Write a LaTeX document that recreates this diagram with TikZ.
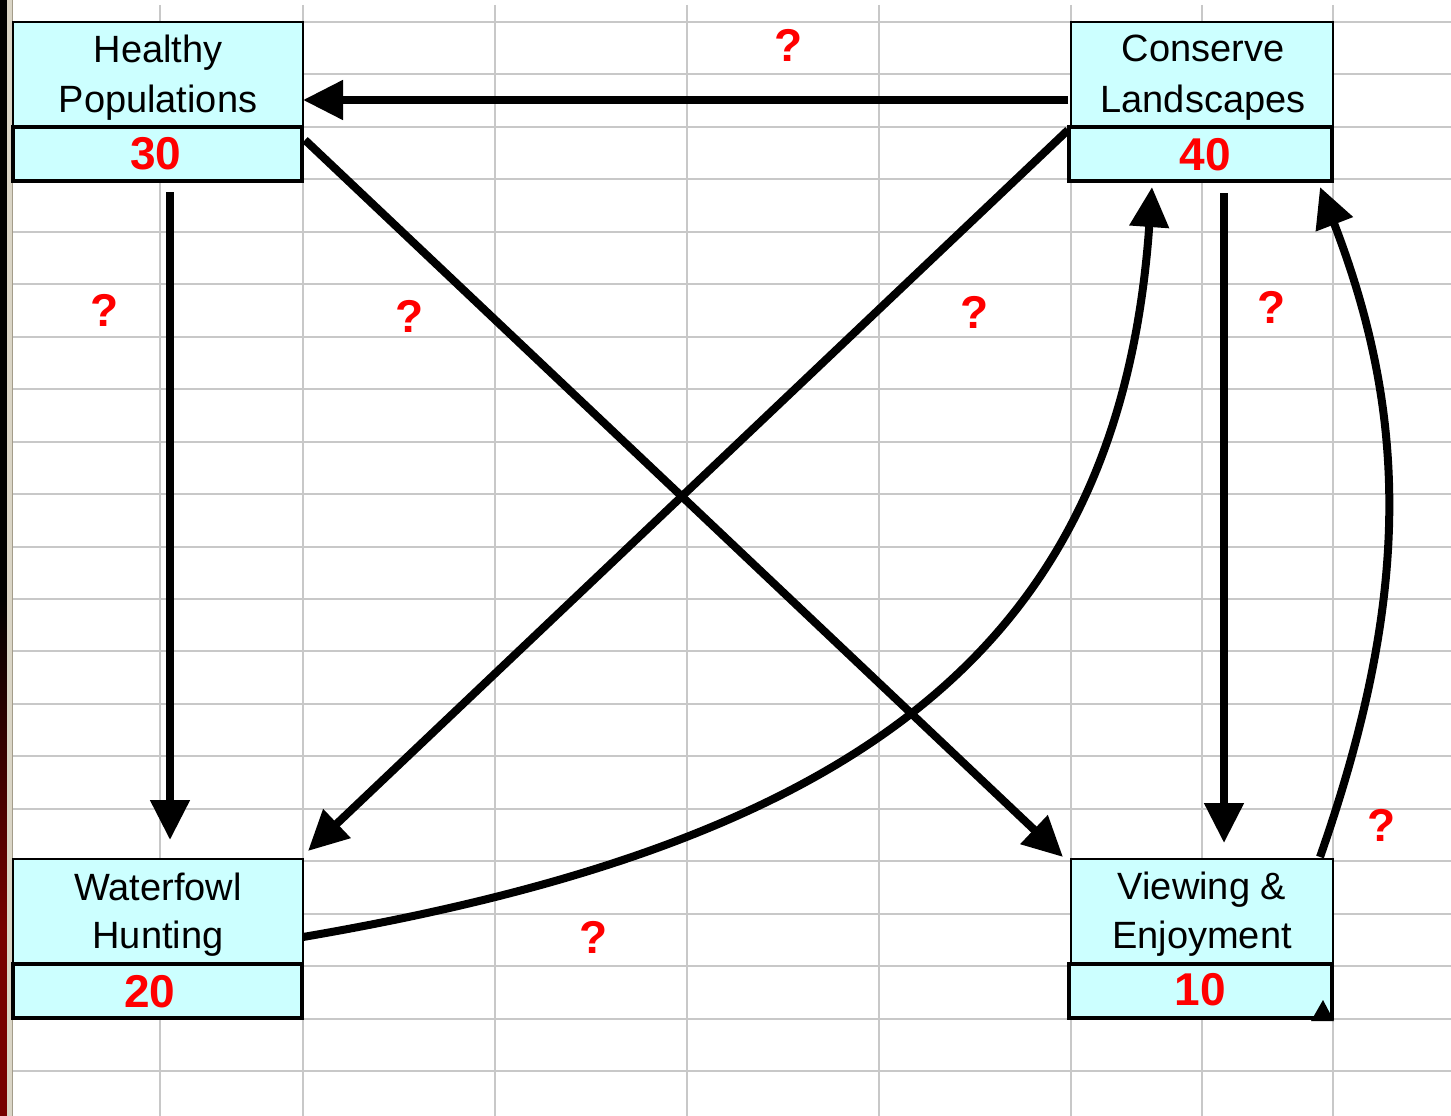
\documentclass[tikz,border=0pt]{standalone}
\usepackage{fontspec}
\setmainfont{Liberation Sans}
\usetikzlibrary{arrows.meta}
\definecolor{boxfill}{HTML}{CCFFFF}
\definecolor{gridgray}{HTML}{C8C8C8}
\definecolor{qred}{HTML}{FF0000}
\definecolor{barred}{HTML}{780000}
\definecolor{bandtan}{HTML}{DAD5C6}
\definecolor{bandline}{HTML}{A39C8A}
\begin{document}
\begin{tikzpicture}[x=1pt,y=-1pt,line join=miter,
  headbox/.style={draw=black,line width=2pt,fill=boxfill,inner sep=0pt,outer sep=0pt,minimum height=105pt},
  numbox/.style={draw=black,line width=3.5pt,fill=boxfill,inner sep=0pt,outer sep=0pt,minimum height=54pt},
  lbl/.style={font=\fontsize{38}{46}\selectfont,inner sep=0pt,anchor=base},
  num/.style={font=\fontsize{46}{50}\selectfont\bfseries,text=qred,inner sep=0pt,anchor=base},
  qm/.style={font=\fontsize{46}{50}\selectfont\bfseries,text=qred,inner sep=0pt},
  link/.style={line width=8pt,-{Triangle[length=40pt,width=38pt]}},
  gridln/.style={draw=gridgray,line width=2pt}]
\useasboundingbox (0,0) rectangle (1451,1116);
\fill[white] (0,0) rectangle (1451,1116);
% grid
\foreach \k in {0,...,20} \draw[gridln] (7,{22+52.45*\k}) -- (1451,{22+52.45*\k});
\foreach \xx in {160,303,495,687,879,1071,1202,1333} \draw[gridln] (\xx,5) -- (\xx,1116);
% left bar
\fill[black] (0,0) rectangle (7,600);
\shade[top color=black,bottom color=barred] (0,600) rectangle (7,930);
\fill[barred] (0,930) rectangle (7,1116);
\fill[bandtan] (7,0) rectangle (12,1116);
\draw[bandline,line width=1.5pt] (12.5,0) -- (12.5,1116);
% boxes
\node[headbox,minimum width=290pt] (hp) at (158,74.5) {};
\node[numbox,minimum width=289pt] (hpn) at (157.5,154) {};
\node[headbox,minimum width=262pt] (cl) at (1202,74.5) {};
\node[numbox,minimum width=263pt] (cln) at (1200.5,154) {};
\node[headbox,minimum width=290pt] (wh) at (158,911.5) {};
\node[numbox,minimum width=289pt] (whn) at (157.5,991) {};
\node[headbox,minimum width=262pt] (ve) at (1202,911.5) {};
\node[numbox,minimum width=263pt] (ven) at (1200.5,991) {};
% labels
\node[lbl] (hpt1) at (158,63) {Healthy};
\node[lbl] (hpt2) at (158,112) {Populations};
\node[num] (hpv) at (156,169) {30};
\node[lbl] (clt1) at (1203,62) {Conserve};
\node[lbl] (clt2) at (1203,112) {Landscapes};
\node[num] (clv) at (1205,170) {40};
\node[lbl] (wht1) at (158,900) {Waterfowl};
\node[lbl] (wht2) at (158,948) {Hunting};
\node[num] (whv) at (150,1007) {20};
\node[lbl] (vet1) at (1202,899) {Viewing \&};
\node[lbl] (vet2) at (1202,948) {Enjoyment};
\node[num] (vev) at (1200,1005) {10};
% connectors
\draw[link] ([xshift=-3pt,yshift=-25.5pt]cl.west) -- ([yshift=-25.5pt]hp.east);
\draw[link] ([xshift=12.5pt,yshift=-11pt]hpn.south) -- ([xshift=12pt,yshift=19pt]wh.north);
\draw[link] ([xshift=3pt,yshift=14pt]hpn.east) -- ([xshift=-8pt,yshift=2pt]ve.north west);
\draw[link] ([xshift=-1pt,yshift=-3pt]cln.north west) -- ([xshift=5pt,yshift=8pt]wh.north east);
\draw[link] ([yshift=-25.5pt]wh.east) .. controls (870,840) and (1120,640) .. ([xshift=-48.5pt,yshift=-6pt]cln.south);
\draw[link] ([xshift=23.5pt,yshift=-12pt]cln.south) -- ([xshift=22pt,yshift=16pt]ve.north);
\draw[link] ([xshift=-13pt,yshift=2pt]ve.north east) .. controls (1410,600) and (1410,420) .. ([xshift=-12pt,yshift=-6pt]cln.south east);
\fill[black] (1323,1000) -- (1334,1021) -- (1311,1021) -- cycle;
% question marks
\node[qm] (q1) at (789,45) {?};
\node[qm] (q2) at (105,310) {?};
\node[qm] (q3) at (410,316) {?};
\node[qm] (q4) at (975,312) {?};
\node[qm] (q5) at (1272,307) {?};
\node[qm] (q6) at (1382,825) {?};
\node[qm] (q7) at (594,937) {?};
\end{tikzpicture}
\end{document}
